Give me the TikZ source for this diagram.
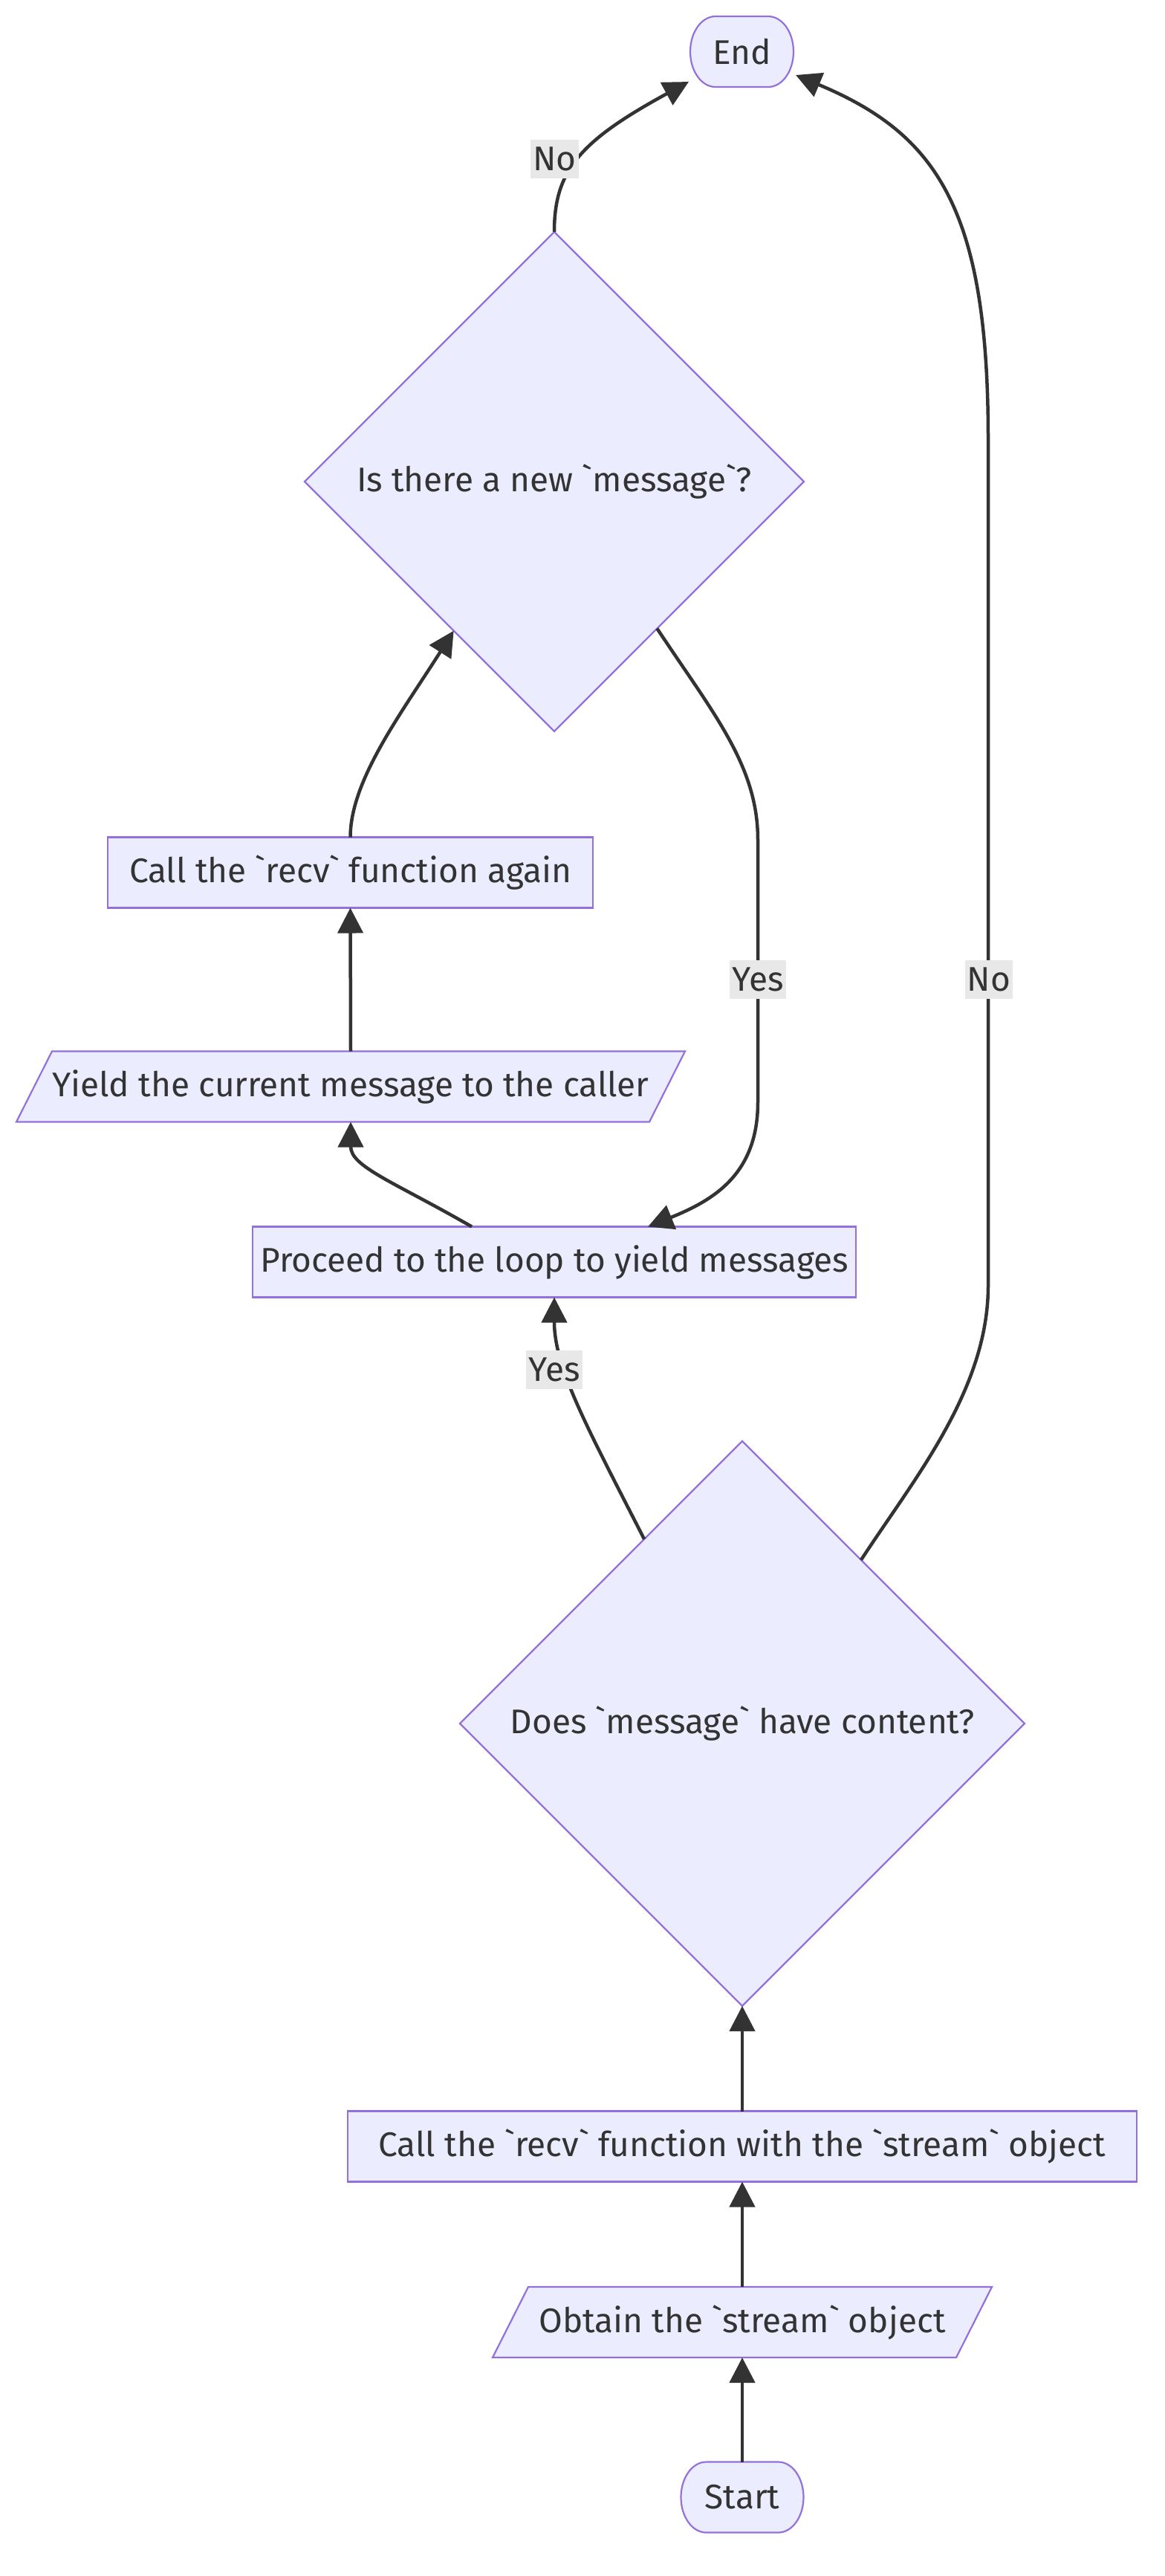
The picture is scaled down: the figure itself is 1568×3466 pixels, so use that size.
\documentclass[tikz,border=0pt]{standalone}
\usepackage{fontspec}
\setmainfont{Fira Sans}[Ligatures=TeXOff]
\usetikzlibrary{shapes.geometric,arrows.meta,calc}
\definecolor{nfill}{HTML}{ECECFF}
\definecolor{nline}{HTML}{9370DB}
\definecolor{eline}{HTML}{333333}
\definecolor{lblbg}{HTML}{E8E8E8}
\pgfdeclarelayer{bg}
\pgfsetlayers{bg,main}
\begin{document}
\begin{tikzpicture}[x=0.5pt,y=-0.5pt,
  every node/.style={font=\fontsize{23pt}{27pt}\selectfont, text=eline, outer sep=0pt, inner sep=0pt},
  procbox/.style={draw=nline, fill=nfill, line width=1.1pt, minimum height=47.5pt},
  iotext/.style={minimum height=47.5pt},
  iobox/.style={draw=nline, fill=nfill, line width=1.1pt},
  decision/.style={diamond, draw=nline, fill=nfill, line width=1.1pt, shape aspect=1},
  conn/.style={draw=eline, line width=2.25pt, -{Triangle[length=17pt,width=17pt]}},
  lbl/.style={fill=lblbg, minimum height=26pt, inner xsep=1.5pt}
]
\useasboundingbox (0,0) rectangle (1568,3466);

% nodes
\node[iotext, minimum width=69.5pt] (endn) at (998.5,69.5) {End};
\node[decision, minimum width=336pt, minimum height=336pt] (d1) at (746,648) {Is there a new `message`?};
\node[procbox, minimum width=326.5pt] (again) at (471.5,1174) {Call the `recv` function again};
\node[iotext, minimum width=426pt] (yield) at (472,1462) {Yield the current message to the caller};
\node[procbox, minimum width=406pt] (proceed) at (746,1698) {Proceed to the loop to yield messages};
\node[decision, minimum width=380pt, minimum height=380pt] (d2) at (999,2319) {Does `message` have content?};
\node[procbox, minimum width=531pt] (callstream) at (999,2888) {Call the `recv` function with the `stream` object};
\node[iotext, minimum width=312pt] (obtain) at (999,3124.5) {Obtain the `stream` object};
\node[iotext, minimum width=82.5pt] (start) at (999,3360) {Start};

\begin{pgfonlayer}{bg}
\draw[iobox] ($(yield.north west)+(24,0)$) -- ($(yield.north east)+(24,0)$) -- ($(yield.south east)+(-24,0)$) -- ($(yield.south west)+(-24,0)$) -- cycle;
\draw[iobox] ($(obtain.north west)+(24,0)$) -- ($(obtain.north east)+(24,0)$) -- ($(obtain.south east)+(-24,0)$) -- ($(obtain.south west)+(-24,0)$) -- cycle;
\draw[iobox] ($(endn.north west)+(34,0)$) -- ($(endn.north east)+(-34,0)$) arc[start angle=90,end angle=-90,x radius=17pt,y radius=23.75pt] -- ($(endn.south west)+(34,0)$) arc[start angle=270,end angle=90,x radius=17pt,y radius=23.75pt] -- cycle;
\draw[iobox] ($(start.north west)+(34,0)$) -- ($(start.north east)+(-34,0)$) arc[start angle=90,end angle=-90,x radius=17pt,y radius=23.75pt] -- ($(start.south west)+(34,0)$) arc[start angle=270,end angle=90,x radius=17pt,y radius=23.75pt] -- cycle;
\end{pgfonlayer}

% connectors
\draw[conn] (start.north) -- (obtain.south);
\draw[conn] (obtain.north) -- (callstream.south);
\draw[conn] (callstream.north) -- (d2.south);
\draw[conn] (d2.118) .. controls (790,1920) and (746,1840) .. (proceed.south);
\draw[conn] (d2.54.6) .. controls (1230,1990) and (1330,1870) .. (1330,1730) -- (1330,590) .. controls (1330,280) and (1260,180) .. ($(endn.center)+(72.5,31.5)$);
\draw[conn] ($(proceed.north)+(-111,0)$) .. controls (530,1590) and (472,1570) .. (yield.south);
\draw[conn] (yield.north) -- (again.south);
\draw[conn] (again.north) .. controls (471.5,1050) and (540,960) .. (d1.236);
\draw[conn] (d1.-55.7) .. controls (960,960) and (1020,1030) .. (1020,1130) -- (1020,1483) .. controls (1020,1580) and (960,1615) .. ($(proceed.north)+(126,0)$);
\draw[conn] (d1.north) .. controls (746,230) and (780,190) .. ($(endn.center)+(-71.5,40.5)$);

% labels
\node[lbl] (lno1) at (746.5,214) {No};
\node[lbl] (lyes1) at (1020,1318) {Yes};
\node[lbl] (lno2) at (1331,1318) {No};
\node[lbl] (lyes2) at (746,1843) {Yes};
\end{tikzpicture}
\end{document}
